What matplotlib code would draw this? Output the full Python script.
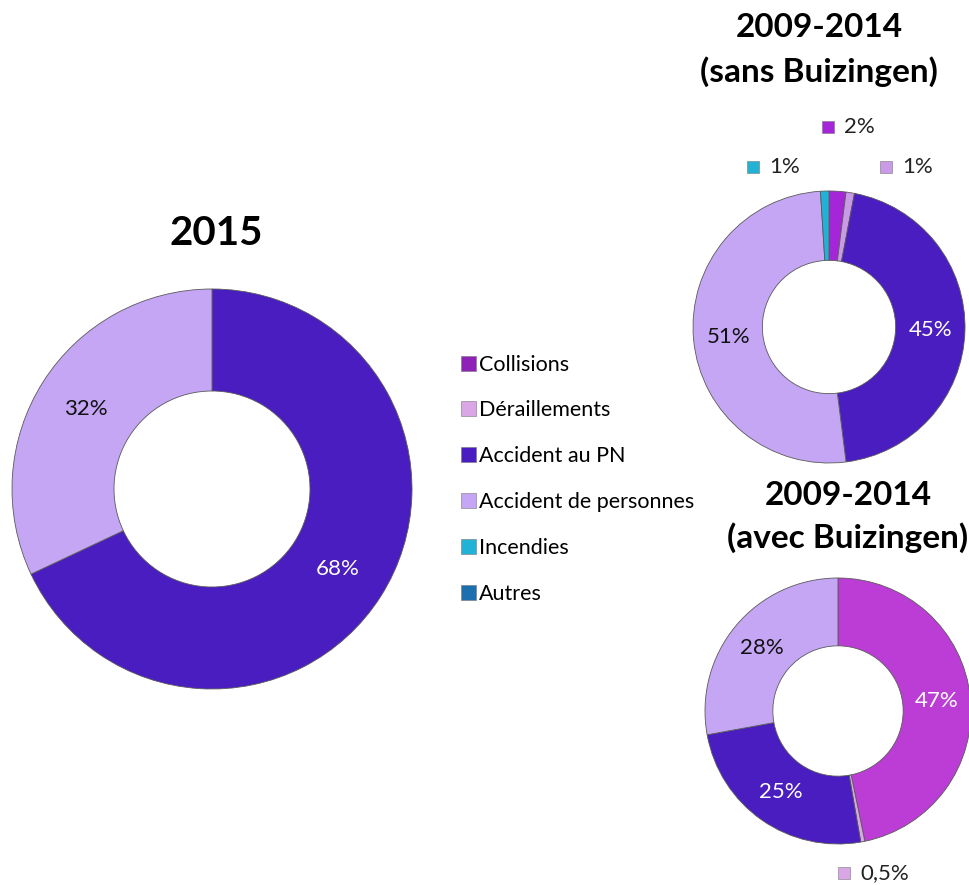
import numpy as np
import matplotlib.pyplot as plt
from matplotlib.patches import Patch

plt.rcParams['font.family'] = ['Lato', 'DejaVu Sans']

# données
categories = ['Collisions', 'Déraillements', 'Accident au PN',
              'Accident de personnes', 'Incendies', 'Autres']
colors = ['#8e22b6', '#dba6e6', '#4a1dc0', '#c4a6f4', '#22b2d6', '#1b6fae']
colors_sans = ['#a526d8', '#c99ae6', '#4a1dc0', '#c4a6f4', '#22b2d6', '#1b6fae']
colors_avec = ['#bc3dd6', '#d9a6e6', '#4a1dc0', '#c4a6f4', '#22b2d6', '#1b6fae']

vals_2015 = [0, 0, 68, 32, 0, 0]
vals_sans = [2, 1, 45, 51, 1, 0]
vals_avec = [47, 0.5, 25, 28, 0, 0]

W, H = 970, 885
fig = plt.figure(figsize=(W / 100, H / 100), dpi=100)
ax = fig.add_axes([0, 0, 1, 1])


def fmt(v):
    return f"{v:g}%".replace('.', ',')


def donut(vals, cols, cx, cy, r, outside):
    # cx, cy en pixels (y vers le bas)
    cy = H - cy
    idx = [i for i, v in enumerate(vals) if v > 0]
    v = [vals[i] for i in idx]
    c = [cols[i] for i in idx]
    wedges, _ = ax.pie(v, colors=c, center=(cx, cy), radius=r, startangle=90,
                       counterclock=False,
                       wedgeprops=dict(width=r * 0.51, edgecolor='#5a5a5a', linewidth=0.6))
    for w, i in zip(wedges, idx):
        if i in outside:
            sx, sy = outside[i]
            ax.plot(sx, H - sy, marker='s', ms=9, color=cols[i],
                    markeredgecolor='#777777', markeredgewidth=0.4)
            ax.text(sx + 16, H - sy, fmt(vals[i]), fontsize=16,
                    ha='left', va='center', color='#222222')
            continue
        a = np.deg2rad((w.theta1 + w.theta2) / 2)
        rr = r * 0.745
        dark = i in (0, 2)
        ax.text(cx + rr * np.cos(a), cy + rr * np.sin(a), fmt(vals[i]),
                fontsize=16, ha='center', va='center',
                color='white' if dark else '#111111')


donut(vals_2015, colors, 212, 489, 200, {})
donut(vals_sans, colors_sans, 829, 327, 136,
      {0: (828, 127), 1: (886, 167), 4: (753, 167)})
donut(vals_avec, colors_avec, 838, 711, 133, {1: (844, 873)})

ax.text(216, H - 245, '2015', fontsize=29, fontweight='bold', ha='center', va='baseline')
ax.text(819, H - 37, '2009-2014', fontsize=24, fontweight='bold', ha='center', va='baseline')
ax.text(819, H - 82, '(sans Buizingen)', fontsize=24, fontweight='bold', ha='center', va='baseline')
ax.text(848, H - 505, '2009-2014', fontsize=24, fontweight='bold', ha='center', va='baseline')
ax.text(848, H - 548, '(avec Buizingen)', fontsize=24, fontweight='bold', ha='center', va='baseline')

handles = [Patch(facecolor=c, edgecolor='#777777', linewidth=0.4) for c in colors]
fig.legend(handles, categories, loc='upper left',
           bbox_to_anchor=(452 / W, 1 - 346 / H), frameon=False, fontsize=15.5,
           handlelength=0.7, handleheight=0.7, handletextpad=0.15,
           labelspacing=1.2, borderaxespad=0)

ax.set_xlim(0, W)
ax.set_ylim(0, H)
ax.set_aspect('equal')
ax.axis('off')

fig.savefig('out.png', dpi=100)
